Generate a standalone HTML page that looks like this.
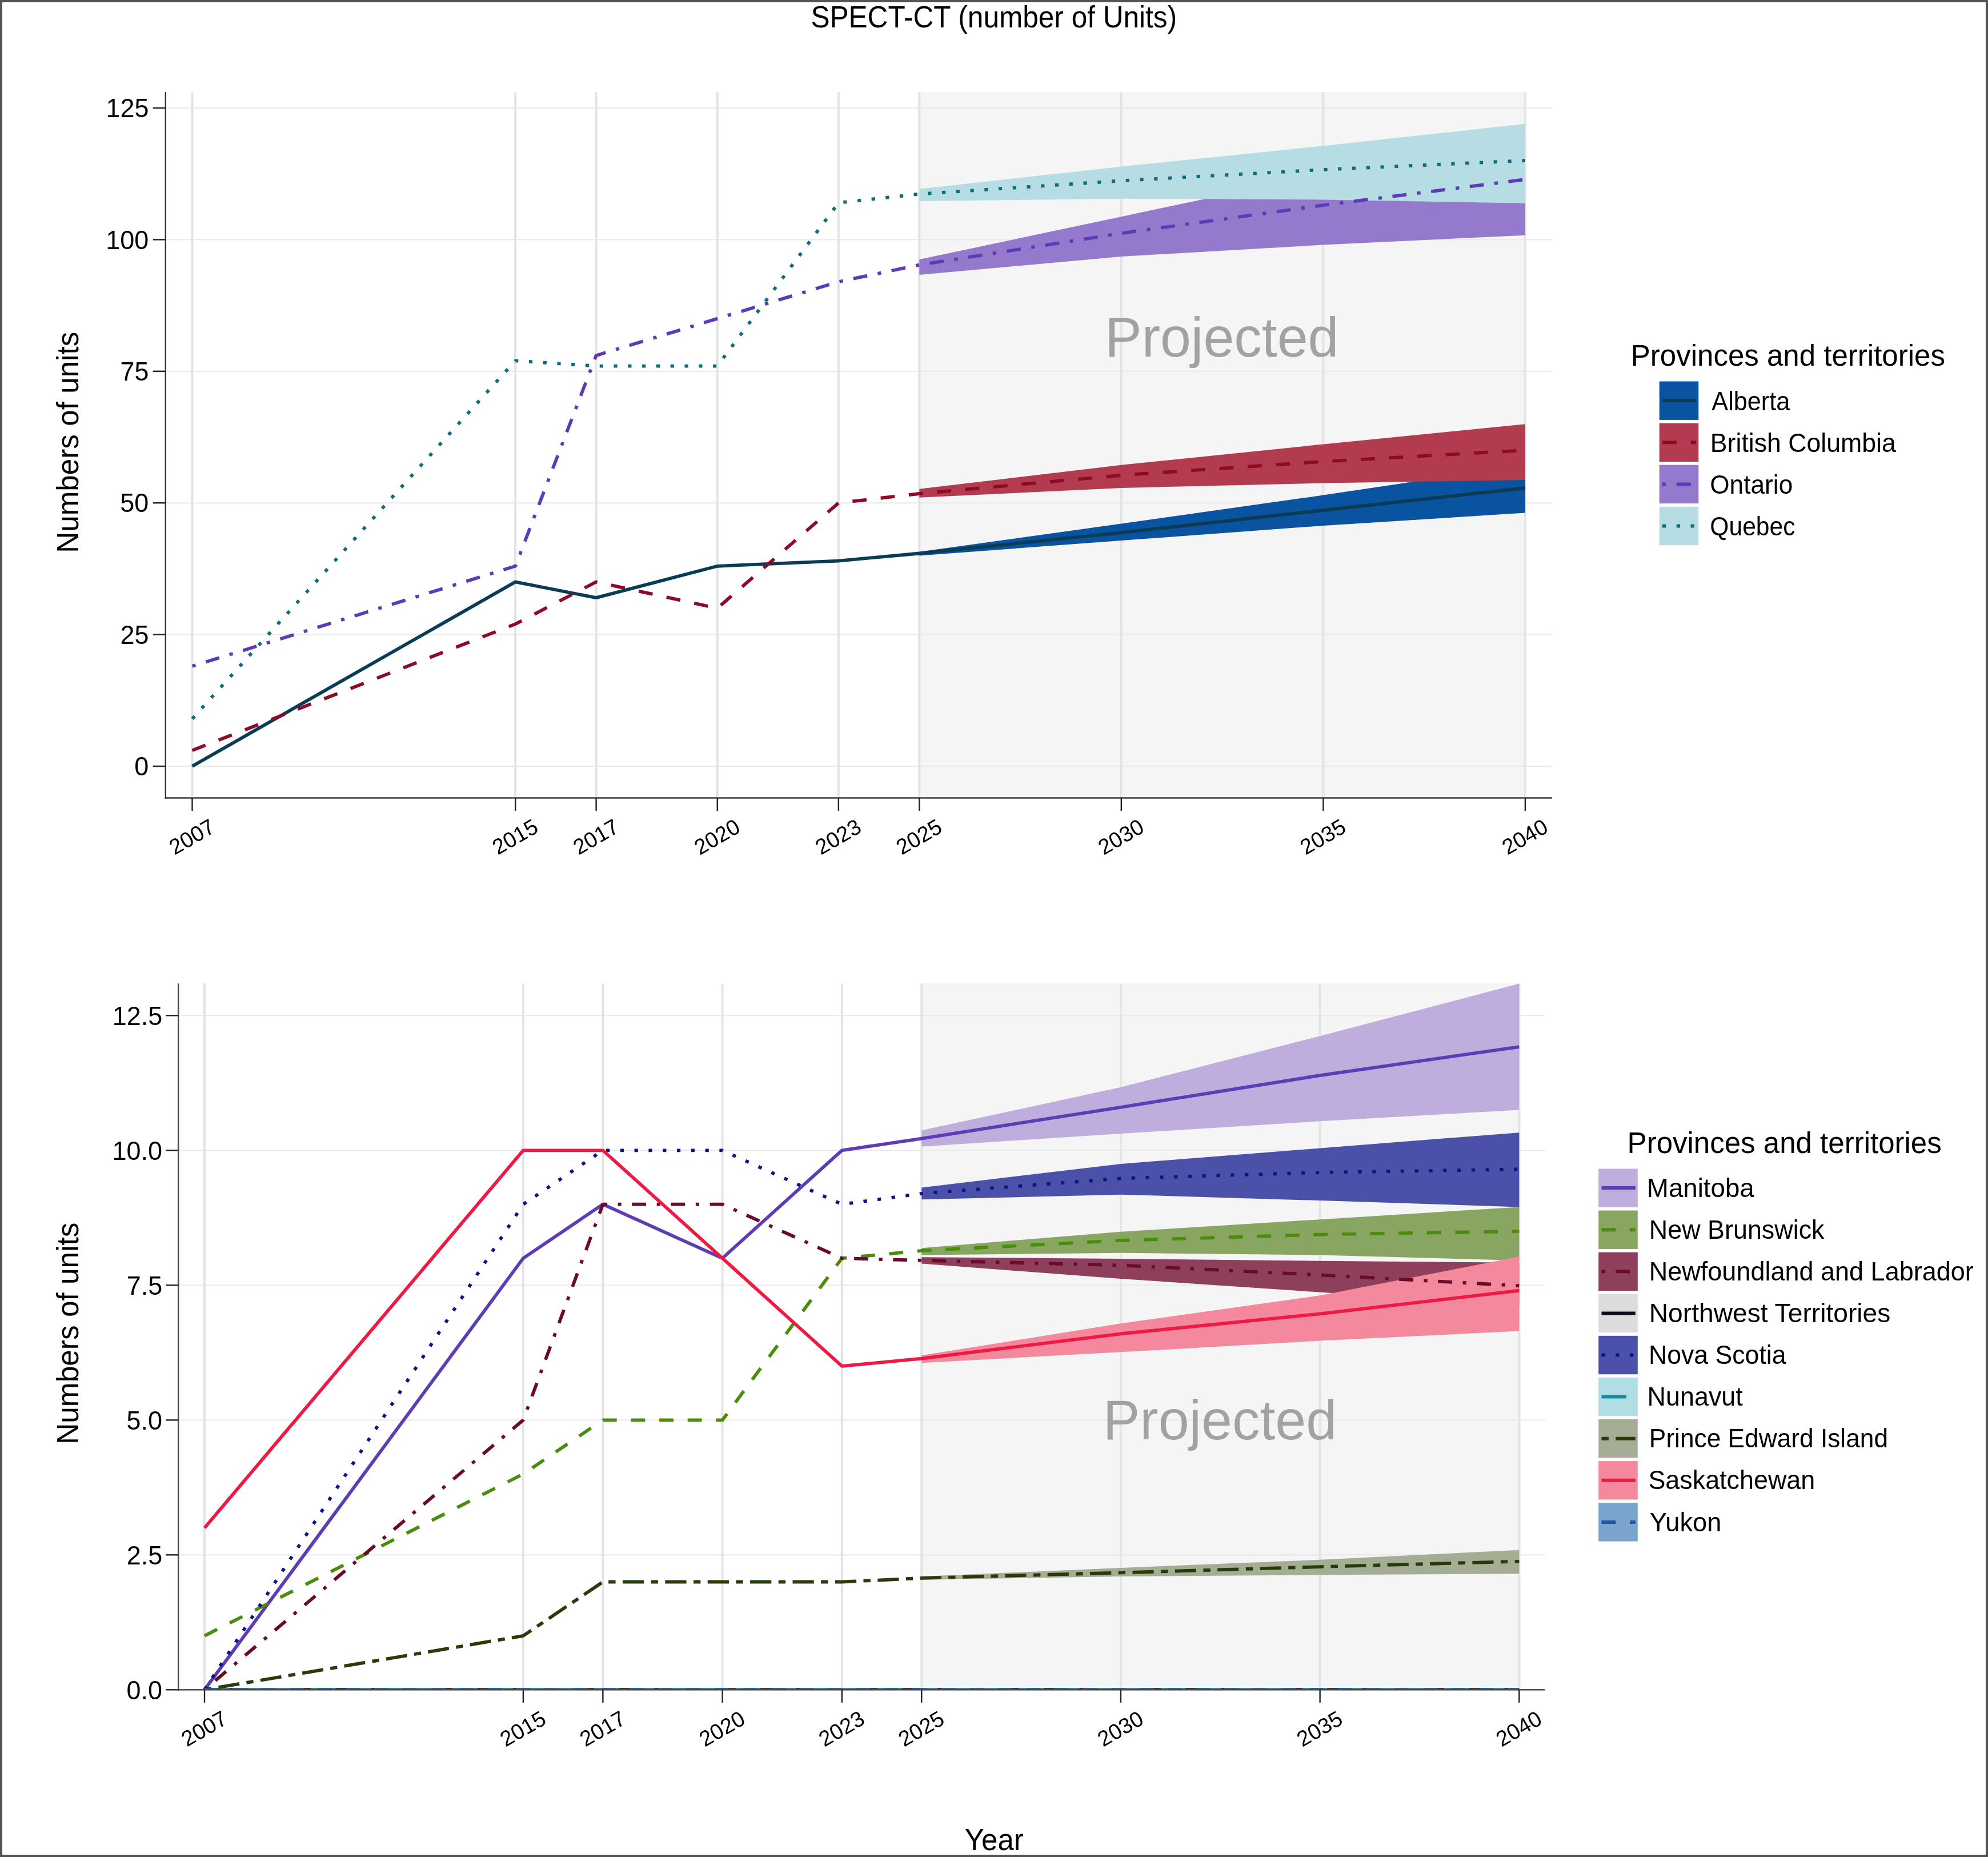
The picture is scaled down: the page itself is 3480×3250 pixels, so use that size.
<!DOCTYPE html><html><head><meta charset="utf-8"><style>html,body{margin:0;padding:0;background:#fff}svg{display:block;will-change:transform}text{font-family:"Liberation Sans",sans-serif;opacity:0.999}</style></head><body>
<svg width="3480" height="3250" viewBox="0 0 3480 3250">
<defs>
<clipPath id="ct"><rect x="289.8" y="161" width="2427.2" height="1235.5"/></clipPath>
<clipPath id="cb"><rect x="312.2" y="1721.2" width="2392.3" height="1236.1"/></clipPath>
</defs>
<rect x="0" y="0" width="3480" height="3250" fill="#fff"/>
<text x="1419.46" y="47.9" font-size="52.91" textLength="640.69" lengthAdjust="spacingAndGlyphs" fill="#000">SPECT-CT (number of Units)</text>
<rect x="1607.28" y="161" width="1064.65" height="1235.5" fill="#f5f5f5"/>
<rect x="290.8" y="1340" width="2426.2" height="2" fill="#e9e9e9"/>
<rect x="290.8" y="1109.6" width="2426.2" height="2" fill="#e9e9e9"/>
<rect x="290.8" y="879.2" width="2426.2" height="2" fill="#e9e9e9"/>
<rect x="290.8" y="648.8" width="2426.2" height="2" fill="#e9e9e9"/>
<rect x="290.8" y="418.4" width="2426.2" height="2" fill="#e9e9e9"/>
<rect x="290.8" y="188" width="2426.2" height="2" fill="#e9e9e9"/>
<rect x="334.5" y="161" width="4" height="1235.5" fill="#e4e4e4"/>
<rect x="900.18" y="161" width="4" height="1235.5" fill="#e4e4e4"/>
<rect x="1041.6" y="161" width="4" height="1235.5" fill="#e4e4e4"/>
<rect x="1253.73" y="161" width="4" height="1235.5" fill="#e4e4e4"/>
<rect x="1465.86" y="161" width="4" height="1235.5" fill="#e4e4e4"/>
<rect x="1607.28" y="161" width="4" height="1235.5" fill="#e4e4e4"/>
<rect x="1960.83" y="161" width="4" height="1235.5" fill="#e4e4e4"/>
<rect x="2314.38" y="161" width="4" height="1235.5" fill="#e4e4e4"/>
<rect x="2667.93" y="161" width="4" height="1235.5" fill="#e4e4e4"/>
<text x="1934.06" y="623.7" font-size="98.55" textLength="409.4" lengthAdjust="spacingAndGlyphs" fill="#a2a2a2">Projected</text>
<path d="M1609.28 965.7 L1962.83 916.5 L2316.38 866.6 L2669.93 814 L2669.93 897.6 L2316.38 919.9 L1962.83 946.1 L1609.28 972.4Z" fill="#0953a0" clip-path="url(#ct)"/>
<path d="M1609.28 855.7 L1962.83 813.8 L2316.38 777.5 L2669.93 742.3 L2669.93 840 L2316.38 845.6 L1962.83 854 L1609.28 870.8Z" fill="#b33b50" clip-path="url(#ct)"/>
<path d="M1609.28 454.1 L1962.83 379.2 L2316.38 304.3 L2669.93 229.4 L2669.93 411.7 L2316.38 428.5 L1962.83 449 L1609.28 480.9Z" fill="#9479cc" clip-path="url(#ct)"/>
<path d="M1609.28 330.7 L1962.83 291.6 L2316.38 255.3 L2669.93 216.8 L2669.93 355.8 L2316.38 349.4 L1962.83 347.8 L1609.28 351.9Z" fill="#b6dde4" clip-path="url(#ct)"/>
<path d="M336.5 1341 L902.18 1018.44 L1043.6 1046.09 L1255.73 990.79 L1467.86 981.58 L1609.28 968.5 L1962.83 932.2 L2316.38 893 L2669.93 854" fill="none" stroke="#0b3c55" stroke-width="5.8" stroke-linejoin="round" clip-path="url(#ct)"/>
<path d="M336.5 1313.35 L902.18 1092.17 L1043.6 1018.44 L1255.73 1064.52 L1467.86 880.2 L1609.28 864 L1962.83 831.7 L2316.38 807.7 L2669.93 788.1" fill="none" stroke="#8e0b28" stroke-width="5.8" stroke-linejoin="round" stroke-dasharray="24.8 24.8" clip-path="url(#ct)"/>
<path d="M336.5 1165.9 L902.18 990.79 L1043.6 622.15 L1255.73 557.64 L1467.86 493.13 L1609.28 463.6 L1962.83 408.3 L2316.38 359.1 L2669.93 314" fill="none" stroke="#5c3bb8" stroke-width="5.8" stroke-linejoin="round" stroke-dasharray="6.2 18.6 24.8 18.6" clip-path="url(#ct)"/>
<path d="M336.5 1258.06 L902.18 631.37 L1043.6 640.58 L1255.73 640.58 L1467.86 354.89 L1609.28 339.6 L1962.83 316.3 L2316.38 296.9 L2669.93 281" fill="none" stroke="#0f6c7a" stroke-width="5.8" stroke-linejoin="round" stroke-dasharray="6.2 18.6" clip-path="url(#ct)"/>
<rect x="288.6" y="161" width="2.4" height="1236.7" fill="#333"/>
<rect x="288.6" y="1395.3" width="2428.4" height="2.4" fill="#333"/>
<rect x="267.8" y="1339.8" width="22" height="2.4" fill="#222"/>
<rect x="267.8" y="1109.4" width="22" height="2.4" fill="#222"/>
<rect x="267.8" y="879" width="22" height="2.4" fill="#222"/>
<rect x="267.8" y="648.6" width="22" height="2.4" fill="#222"/>
<rect x="267.8" y="418.2" width="22" height="2.4" fill="#222"/>
<rect x="267.8" y="187.8" width="22" height="2.4" fill="#222"/>
<rect x="335.3" y="1396.5" width="2.4" height="22.5" fill="#222"/>
<rect x="900.98" y="1396.5" width="2.4" height="22.5" fill="#222"/>
<rect x="1042.4" y="1396.5" width="2.4" height="22.5" fill="#222"/>
<rect x="1254.53" y="1396.5" width="2.4" height="22.5" fill="#222"/>
<rect x="1466.66" y="1396.5" width="2.4" height="22.5" fill="#222"/>
<rect x="1608.08" y="1396.5" width="2.4" height="22.5" fill="#222"/>
<rect x="1961.63" y="1396.5" width="2.4" height="22.5" fill="#222"/>
<rect x="2315.18" y="1396.5" width="2.4" height="22.5" fill="#222"/>
<rect x="2668.73" y="1396.5" width="2.4" height="22.5" fill="#222"/>
<text x="235.27" y="1357.2" font-size="47.09" textLength="24.99" lengthAdjust="spacingAndGlyphs" fill="#000">0</text>
<text x="210.41" y="1126.8" font-size="47.09" textLength="49.97" lengthAdjust="spacingAndGlyphs" fill="#000">25</text>
<text x="210.28" y="896.4" font-size="47.09" textLength="49.97" lengthAdjust="spacingAndGlyphs" fill="#000">50</text>
<text x="210.41" y="666" font-size="47.09" textLength="49.97" lengthAdjust="spacingAndGlyphs" fill="#000">75</text>
<text x="185.3" y="435.6" font-size="47.09" textLength="74.96" lengthAdjust="spacingAndGlyphs" fill="#000">100</text>
<text x="185.43" y="205.2" font-size="47.09" textLength="74.96" lengthAdjust="spacingAndGlyphs" fill="#000">125</text>
<text x="293.64" y="1477.6" font-size="38.08" textLength="84.72" lengthAdjust="spacingAndGlyphs" fill="#000" transform="rotate(-30 336 1464.5)">2007</text>
<text x="859.16" y="1477.6" font-size="38.08" textLength="84.72" lengthAdjust="spacingAndGlyphs" fill="#000" transform="rotate(-30 901.68 1464.5)">2015</text>
<text x="1000.74" y="1477.6" font-size="38.08" textLength="84.72" lengthAdjust="spacingAndGlyphs" fill="#000" transform="rotate(-30 1043.1 1464.5)">2017</text>
<text x="1212.66" y="1477.6" font-size="38.08" textLength="84.72" lengthAdjust="spacingAndGlyphs" fill="#000" transform="rotate(-30 1255.23 1464.5)">2020</text>
<text x="1424.88" y="1477.6" font-size="38.08" textLength="84.72" lengthAdjust="spacingAndGlyphs" fill="#000" transform="rotate(-30 1467.36 1464.5)">2023</text>
<text x="1566.26" y="1477.6" font-size="38.08" textLength="84.72" lengthAdjust="spacingAndGlyphs" fill="#000" transform="rotate(-30 1608.78 1464.5)">2025</text>
<text x="1919.76" y="1477.6" font-size="38.08" textLength="84.72" lengthAdjust="spacingAndGlyphs" fill="#000" transform="rotate(-30 1962.33 1464.5)">2030</text>
<text x="2273.36" y="1477.6" font-size="38.08" textLength="84.72" lengthAdjust="spacingAndGlyphs" fill="#000" transform="rotate(-30 2315.88 1464.5)">2035</text>
<text x="2626.86" y="1477.6" font-size="38.08" textLength="84.72" lengthAdjust="spacingAndGlyphs" fill="#000" transform="rotate(-30 2669.43 1464.5)">2040</text>
<rect x="1611.27" y="1721.2" width="1050.06" height="1236.1" fill="#f5f5f5"/>
<rect x="313.2" y="2956.3" width="2391.3" height="2" fill="#e9e9e9"/>
<rect x="313.2" y="2720.3" width="2391.3" height="2" fill="#e9e9e9"/>
<rect x="313.2" y="2484.3" width="2391.3" height="2" fill="#e9e9e9"/>
<rect x="313.2" y="2248.3" width="2391.3" height="2" fill="#e9e9e9"/>
<rect x="313.2" y="2012.3" width="2391.3" height="2" fill="#e9e9e9"/>
<rect x="313.2" y="1776.3" width="2391.3" height="2" fill="#e9e9e9"/>
<rect x="356" y="1721.2" width="4" height="1236.1" fill="#e4e4e4"/>
<rect x="913.9" y="1721.2" width="4" height="1236.1" fill="#e4e4e4"/>
<rect x="1053.37" y="1721.2" width="4" height="1236.1" fill="#e4e4e4"/>
<rect x="1262.58" y="1721.2" width="4" height="1236.1" fill="#e4e4e4"/>
<rect x="1471.79" y="1721.2" width="4" height="1236.1" fill="#e4e4e4"/>
<rect x="1611.27" y="1721.2" width="4" height="1236.1" fill="#e4e4e4"/>
<rect x="1959.95" y="1721.2" width="4" height="1236.1" fill="#e4e4e4"/>
<rect x="2308.64" y="1721.2" width="4" height="1236.1" fill="#e4e4e4"/>
<rect x="2657.32" y="1721.2" width="4" height="1236.1" fill="#e4e4e4"/>
<text x="1930.74" y="2519" font-size="98.55" textLength="409.4" lengthAdjust="spacingAndGlyphs" fill="#a2a2a2">Projected</text>
<path d="M1613.27 1978.37 L1961.95 1902.85 L2310.64 1813.17 L2659.32 1721.6 L2659.32 1942.5 L2310.64 1962.32 L1961.95 1984.04 L1613.27 2006.69Z" fill="#bfaedd" clip-path="url(#cb)"/>
<path d="M1613.27 2184.16 L1961.95 2155.84 L2310.64 2134.13 L2659.32 2112.42 L2659.32 2205.88 L2310.64 2196.44 L1961.95 2192.66 L1613.27 2196.44Z" fill="#88a662" clip-path="url(#cb)"/>
<path d="M1613.27 2200.21 L1961.95 2203.04 L2310.64 2206.82 L2659.32 2209.65 L2659.32 2286.12 L2310.64 2261.57 L1961.95 2237.97 L1613.27 2211.54Z" fill="#8e3f5c" clip-path="url(#cb)"/>
<path d="M1613.27 2078.44 L1961.95 2036.9 L2310.64 2009.52 L2659.32 1982.15 L2659.32 2112.42 L2310.64 2101.09 L1961.95 2090.71 L1613.27 2099.2Z" fill="#4b51a9" clip-path="url(#cb)"/>
<path d="M1613.27 2759.06 L1961.95 2743.96 L2310.64 2729.8 L2659.32 2712.8 L2659.32 2754.34 L2310.64 2756.23 L1961.95 2759.06 L1613.27 2764.72Z" fill="#a5ad94" clip-path="url(#cb)"/>
<path d="M1613.27 2372.02 L1961.95 2316.32 L2310.64 2267.24 L2659.32 2199.27 L2659.32 2329.54 L2310.64 2346.53 L1961.95 2366.36 L1613.27 2385.24Z" fill="#f4889c" clip-path="url(#cb)"/>
<path d="M358 2957.3 L915.9 2202.1 L1055.37 2107.7 L1264.58 2202.1 L1473.79 2013.3 L1613.27 1992.53 L1961.95 1937.78 L2310.64 1882.08 L2659.32 1832.05" fill="none" stroke="#5c3db5" stroke-width="5.8" stroke-linejoin="round" clip-path="url(#cb)"/>
<path d="M358 2862.9 L915.9 2579.7 L1055.37 2485.3 L1264.58 2485.3 L1473.79 2202.1 L1613.27 2188.88 L1961.95 2170.95 L2310.64 2160.56 L2659.32 2154.9" fill="none" stroke="#4a8c0c" stroke-width="5.8" stroke-linejoin="round" stroke-dasharray="24.8 24.8" clip-path="url(#cb)"/>
<path d="M358 2957.3 L915.9 2485.3 L1055.37 2107.7 L1264.58 2107.7 L1473.79 2202.1 L1613.27 2205.88 L1961.95 2214.37 L2310.64 2231.36 L2659.32 2250.24" fill="none" stroke="#6b0a2b" stroke-width="5.8" stroke-linejoin="round" stroke-dasharray="6.2 18.6 24.8 18.6" clip-path="url(#cb)"/>
<path d="M358 2957.3 L915.9 2957.3 L1055.37 2957.3 L1264.58 2957.3 L1473.79 2957.3 L1613.27 2957.3 L1961.95 2957.3 L2310.64 2957.3 L2659.32 2957.3" fill="none" stroke="#0d0d1a" stroke-width="5.8" stroke-linejoin="round" clip-path="url(#cb)"/>
<path d="M358 2957.3 L915.9 2107.7 L1055.37 2013.3 L1264.58 2013.3 L1473.79 2107.7 L1613.27 2088.82 L1961.95 2062.39 L2310.64 2052 L2659.32 2046.34" fill="none" stroke="#0b1585" stroke-width="5.8" stroke-linejoin="round" stroke-dasharray="6.2 18.6" clip-path="url(#cb)"/>
<path d="M358 2957.3 L915.9 2957.3 L1055.37 2957.3 L1264.58 2957.3 L1473.79 2957.3 L1613.27 2957.3 L1961.95 2957.3 L2310.64 2957.3 L2659.32 2957.3" fill="none" stroke="#1a8a9a" stroke-width="5.8" stroke-linejoin="round" stroke-dasharray="43.4 18.6" clip-path="url(#cb)"/>
<path d="M358 2957.3 L915.9 2862.9 L1055.37 2768.5 L1264.58 2768.5 L1473.79 2768.5 L1613.27 2761.89 L1961.95 2752.45 L2310.64 2742.07 L2659.32 2732.63" fill="none" stroke="#2a3a0a" stroke-width="5.8" stroke-linejoin="round" stroke-dasharray="12.4 12.4 37.2 12.4" clip-path="url(#cb)"/>
<path d="M358 2674.1 L915.9 2013.3 L1055.37 2013.3 L1264.58 2202.1 L1473.79 2390.9 L1613.27 2377.68 L1961.95 2334.26 L2310.64 2299.33 L2659.32 2258.74" fill="none" stroke="#ee1a44" stroke-width="5.8" stroke-linejoin="round" clip-path="url(#cb)"/>
<path d="M358 2957.3 L915.9 2957.3 L1055.37 2957.3 L1264.58 2957.3 L1473.79 2957.3 L1613.27 2957.3 L1961.95 2957.3 L2310.64 2957.3 L2659.32 2957.3" fill="none" stroke="#1a5aa5" stroke-width="5.8" stroke-linejoin="round" stroke-dasharray="24.8 24.8" clip-path="url(#cb)"/>
<rect x="310.95" y="1721.2" width="2.5" height="1237.35" fill="#4d4d4d"/>
<rect x="310.95" y="2956.05" width="2393.55" height="2.5" fill="#4d4d4d"/>
<rect x="290.2" y="2956.1" width="22" height="2.4" fill="#222"/>
<rect x="290.2" y="2720.1" width="22" height="2.4" fill="#222"/>
<rect x="290.2" y="2484.1" width="22" height="2.4" fill="#222"/>
<rect x="290.2" y="2248.1" width="22" height="2.4" fill="#222"/>
<rect x="290.2" y="2012.1" width="22" height="2.4" fill="#222"/>
<rect x="290.2" y="1776.1" width="22" height="2.4" fill="#222"/>
<rect x="356.8" y="2957.3" width="2.4" height="22.5" fill="#222"/>
<rect x="914.7" y="2957.3" width="2.4" height="22.5" fill="#222"/>
<rect x="1054.17" y="2957.3" width="2.4" height="22.5" fill="#222"/>
<rect x="1263.38" y="2957.3" width="2.4" height="22.5" fill="#222"/>
<rect x="1472.59" y="2957.3" width="2.4" height="22.5" fill="#222"/>
<rect x="1612.07" y="2957.3" width="2.4" height="22.5" fill="#222"/>
<rect x="1960.75" y="2957.3" width="2.4" height="22.5" fill="#222"/>
<rect x="2309.44" y="2957.3" width="2.4" height="22.5" fill="#222"/>
<rect x="2658.12" y="2957.3" width="2.4" height="22.5" fill="#222"/>
<text x="221.6" y="2973.5" font-size="47.09" textLength="62.46" lengthAdjust="spacingAndGlyphs" fill="#000">0.0</text>
<text x="221.73" y="2737.5" font-size="47.09" textLength="62.46" lengthAdjust="spacingAndGlyphs" fill="#000">2.5</text>
<text x="221.6" y="2501.5" font-size="47.09" textLength="62.46" lengthAdjust="spacingAndGlyphs" fill="#000">5.0</text>
<text x="221.73" y="2265.5" font-size="47.09" textLength="62.46" lengthAdjust="spacingAndGlyphs" fill="#000">7.5</text>
<text x="196.61" y="2029.5" font-size="47.09" textLength="87.44" lengthAdjust="spacingAndGlyphs" fill="#000">10.0</text>
<text x="196.74" y="1793.5" font-size="47.09" textLength="87.44" lengthAdjust="spacingAndGlyphs" fill="#000">12.5</text>
<text x="315.14" y="3038.4" font-size="38.08" textLength="84.72" lengthAdjust="spacingAndGlyphs" fill="#000" transform="rotate(-30 357.5 3025.3)">2007</text>
<text x="872.88" y="3038.4" font-size="38.08" textLength="84.72" lengthAdjust="spacingAndGlyphs" fill="#000" transform="rotate(-30 915.4 3025.3)">2015</text>
<text x="1012.51" y="3038.4" font-size="38.08" textLength="84.72" lengthAdjust="spacingAndGlyphs" fill="#000" transform="rotate(-30 1054.87 3025.3)">2017</text>
<text x="1221.51" y="3038.4" font-size="38.08" textLength="84.72" lengthAdjust="spacingAndGlyphs" fill="#000" transform="rotate(-30 1264.08 3025.3)">2020</text>
<text x="1430.81" y="3038.4" font-size="38.08" textLength="84.72" lengthAdjust="spacingAndGlyphs" fill="#000" transform="rotate(-30 1473.29 3025.3)">2023</text>
<text x="1570.25" y="3038.4" font-size="38.08" textLength="84.72" lengthAdjust="spacingAndGlyphs" fill="#000" transform="rotate(-30 1612.77 3025.3)">2025</text>
<text x="1918.88" y="3038.4" font-size="38.08" textLength="84.72" lengthAdjust="spacingAndGlyphs" fill="#000" transform="rotate(-30 1961.45 3025.3)">2030</text>
<text x="2267.62" y="3038.4" font-size="38.08" textLength="84.72" lengthAdjust="spacingAndGlyphs" fill="#000" transform="rotate(-30 2310.14 3025.3)">2035</text>
<text x="2616.25" y="3038.4" font-size="38.08" textLength="84.72" lengthAdjust="spacingAndGlyphs" fill="#000" transform="rotate(-30 2658.82 3025.3)">2040</text>
<text x="0" y="0" font-size="53.34" textLength="387.15" lengthAdjust="spacingAndGlyphs" transform="translate(136.8 967.8) rotate(-90)">Numbers of units</text>
<text x="0" y="0" font-size="53.34" textLength="388.37" lengthAdjust="spacingAndGlyphs" transform="translate(136.8 2527.81) rotate(-90)">Numbers of units</text>
<text x="1688.73" y="3237.5" font-size="54.07" textLength="102.98" lengthAdjust="spacingAndGlyphs" fill="#000">Year</text>
<text x="2854.81" y="640.2" font-size="51.75" textLength="550.13" lengthAdjust="spacingAndGlyphs" fill="#000">Provinces and territories</text>
<rect x="2904.7" y="667.5" width="68.6" height="67.4" fill="#0953a0"/>
<path d="M2910 701.2 H2969.3" stroke="#0b3c55" stroke-width="6"/>
<text x="2996.32" y="717.7" font-size="46.51" textLength="136.98" lengthAdjust="spacingAndGlyphs" fill="#000">Alberta</text>
<rect x="2904.7" y="740.6" width="68.6" height="67.4" fill="#b33b50"/>
<path d="M2910 774.3 H2969.3" stroke="#8e0b28" stroke-width="6" stroke-dasharray="24.8 24.8"/>
<text x="2993.84" y="790.8" font-size="46.51" textLength="325.06" lengthAdjust="spacingAndGlyphs" fill="#000">British Columbia</text>
<rect x="2904.7" y="813.7" width="68.6" height="67.4" fill="#9479cc"/>
<path d="M2910 847.4 H2969.3" stroke="#5c3bb8" stroke-width="6" stroke-dasharray="6.2 18.6 24.8 18.6"/>
<text x="2993.2" y="863.9" font-size="46.51" textLength="145.05" lengthAdjust="spacingAndGlyphs" fill="#000">Ontario</text>
<rect x="2904.7" y="886.8" width="68.6" height="67.4" fill="#b6dde4"/>
<path d="M2910 920.5 H2969.3" stroke="#0f6c7a" stroke-width="6" stroke-dasharray="6.2 18.6"/>
<text x="2993.28" y="937" font-size="46.51" textLength="149.34" lengthAdjust="spacingAndGlyphs" fill="#000">Quebec</text>
<text x="2848.61" y="2018" font-size="51.75" textLength="550.13" lengthAdjust="spacingAndGlyphs" fill="#000">Provinces and territories</text>
<rect x="2798.2" y="2045.4" width="68.6" height="67.4" fill="#bfaedd"/>
<path d="M2803.5 2079.1 H2862.8" stroke="#5c3db5" stroke-width="6"/>
<text x="2882.85" y="2094.7" font-size="46.51" textLength="187.85" lengthAdjust="spacingAndGlyphs" fill="#000">Manitoba</text>
<rect x="2798.2" y="2118.5" width="68.6" height="67.4" fill="#88a662"/>
<path d="M2803.5 2152.2 H2862.8" stroke="#4a8c0c" stroke-width="6" stroke-dasharray="24.8 24.8"/>
<text x="2886.82" y="2167.8" font-size="46.51" textLength="306.72" lengthAdjust="spacingAndGlyphs" fill="#000">New Brunswick</text>
<rect x="2798.2" y="2191.6" width="68.6" height="67.4" fill="#8e3f5c"/>
<path d="M2803.5 2225.3 H2862.8" stroke="#6b0a2b" stroke-width="6" stroke-dasharray="6.2 18.6 24.8 18.6"/>
<text x="2886.81" y="2240.9" font-size="46.51" textLength="567.94" lengthAdjust="spacingAndGlyphs" fill="#000">Newfoundland and Labrador</text>
<rect x="2798.2" y="2264.7" width="68.6" height="67.4" fill="#dcdcdc"/>
<path d="M2803.5 2298.4 H2862.8" stroke="#0d0d1a" stroke-width="6"/>
<text x="2886.76" y="2314" font-size="46.51" textLength="422.58" lengthAdjust="spacingAndGlyphs" fill="#000">Northwest Territories</text>
<rect x="2798.2" y="2337.8" width="68.6" height="67.4" fill="#4b51a9"/>
<path d="M2803.5 2371.5 H2862.8" stroke="#0b1585" stroke-width="6" stroke-dasharray="6.2 18.6"/>
<text x="2885.94" y="2387.1" font-size="46.51" textLength="240.66" lengthAdjust="spacingAndGlyphs" fill="#000">Nova Scotia</text>
<rect x="2798.2" y="2410.9" width="68.6" height="67.4" fill="#b1dde4"/>
<path d="M2803.5 2444.6 H2862.8" stroke="#1a8a9a" stroke-width="6" stroke-dasharray="43.4 18.6"/>
<text x="2883.52" y="2460.2" font-size="46.51" textLength="167.31" lengthAdjust="spacingAndGlyphs" fill="#000">Nunavut</text>
<rect x="2798.2" y="2484" width="68.6" height="67.4" fill="#a5ad94"/>
<path d="M2803.5 2517.7 H2862.8" stroke="#2a3a0a" stroke-width="6" stroke-dasharray="12.4 12.4 37.2 12.4"/>
<text x="2886.87" y="2533.3" font-size="46.51" textLength="418.18" lengthAdjust="spacingAndGlyphs" fill="#000">Prince Edward Island</text>
<rect x="2798.2" y="2557.1" width="68.6" height="67.4" fill="#f4889c"/>
<path d="M2803.5 2590.8 H2862.8" stroke="#ee1a44" stroke-width="6"/>
<text x="2885.46" y="2606.4" font-size="46.51" textLength="291.75" lengthAdjust="spacingAndGlyphs" fill="#000">Saskatchewan</text>
<rect x="2798.2" y="2630.2" width="68.6" height="67.4" fill="#7ba4cd"/>
<path d="M2803.5 2663.9 H2862.8" stroke="#1a5aa5" stroke-width="6" stroke-dasharray="24.8 24.8"/>
<text x="2887.73" y="2679.5" font-size="46.51" textLength="125.55" lengthAdjust="spacingAndGlyphs" fill="#000">Yukon</text>
<rect x="2" y="2" width="3476" height="3246" fill="none" stroke="#535353" stroke-width="4"/>
</svg></body></html>
